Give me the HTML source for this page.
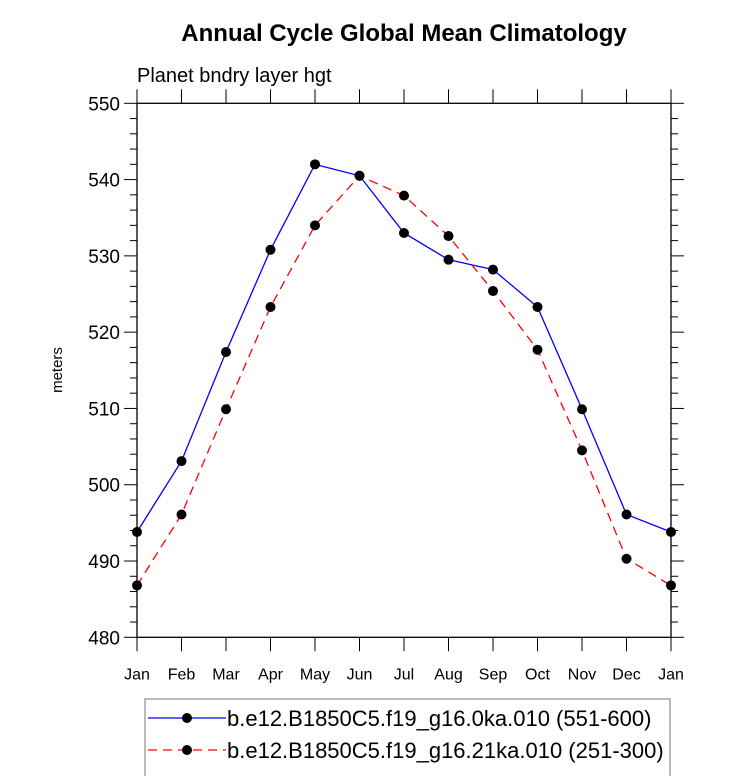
<!DOCTYPE html>
<html><head><meta charset="utf-8"><style>
html,body{margin:0;padding:0;background:#fff;}
svg{display:block;font-family:"Liberation Sans",Arial,sans-serif;}
</style></head><body>
<svg id="chart" width="733" height="776" viewBox="0 0 733 776" xmlns="http://www.w3.org/2000/svg">
<text x="404" y="41" text-anchor="middle" font-size="24" font-weight="bold">Annual Cycle Global Mean Climatology</text>
<text x="137" y="82" font-size="20">Planet bndry layer hgt</text>
<text x="0" y="0" font-size="15" text-anchor="middle" transform="translate(62,370) rotate(-90)">meters</text>
<g id="axes"></g>
<g id="series"></g>
<g>
<rect x="145" y="699" width="525" height="80" fill="none" stroke="#777" stroke-width="1"/>
<line x1="148" y1="718" x2="226" y2="718" stroke="#0000ff" stroke-width="1.3"/>
<circle cx="187" cy="718" r="5" fill="#000"/>
<text x="227" y="726" font-size="22">b.e12.B1850C5.f19_g16.0ka.010 (551-600)</text>
<line x1="148" y1="750" x2="226" y2="750" stroke="#ff0000" stroke-width="1.3" stroke-dasharray="9,6"/>
<circle cx="187" cy="750" r="5" fill="#000"/>
<text x="227" y="758" font-size="22">b.e12.B1850C5.f19_g16.21ka.010 (251-300)</text>
</g>
</svg>
<script>
const months = ["Jan","Feb","Mar","Apr","May","Jun","Jul","Aug","Sep","Oct","Nov","Dec","Jan"];
const series0ka = [493.8,503.1,517.4,530.8,542.0,540.5,533.0,529.5,528.2,523.3,509.9,496.1,493.8];
const series21ka = [486.8,496.1,509.9,523.3,534.0,540.5,537.9,532.6,525.4,517.7,504.5,490.3,486.8];
const yTicks = [480,490,500,510,520,530,540,550];

const X0=137, X1=671, Y0=637.3, Y1=103.3, VMIN=480, VMAX=550;
function xPos(i){return X0+(X1-X0)*i/(months.length-1);}
function yPos(v){return Y0-(v-VMIN)/(VMAX-VMIN)*(Y0-Y1);}
const NS="http://www.w3.org/2000/svg";
function mk(tag,attrs,parent){const e=document.createElementNS(NS,tag);for(const k in attrs)e.setAttribute(k,attrs[k]);parent.appendChild(e);return e;}
const axes=document.getElementById('axes');
const frame=mk('rect',{x:X0,y:Y1,width:X1-X0,height:Y0-Y1,fill:'none',stroke:'#000','stroke-width':1.3},axes);


for(let v=VMIN; v<=VMAX; v+=2){
  const y=yPos(v); const major=(v%10===0); const len=major?13:7;
  const t1=mk('line',{x1:X0-len,y1:y,x2:X0,y2:y,stroke:'#000','stroke-width':1},axes);
  
  
  const t2=mk('line',{x1:X1,y1:y,x2:X1+len,y2:y,stroke:'#000','stroke-width':1},axes);
  
  
}
yTicks.forEach(v=>{
  const t=mk('text',{x:X0-17,y:yPos(v)+7,'text-anchor':'end','font-size':19},axes);
  t.textContent=v;
  
  
});
months.forEach((m,i)=>{
  const x=xPos(i);
  const b=mk('line',{x1:x,y1:Y0,x2:x,y2:Y0+14,stroke:'#000','stroke-width':1},axes);
  
  
  const tp=mk('line',{x1:x,y1:Y1-14,x2:x,y2:Y1,stroke:'#000','stroke-width':1},axes);
  
  
  const t=mk('text',{x:x,y:Y0+42,'text-anchor':'middle','font-size':16},axes);
  t.textContent=m;
  
  
});
const sg=document.getElementById('series');
function drawSeries(vals,color,dash,name){
  const pts=vals.map((v,i)=>xPos(i)+','+yPos(v)).join(' ');
  const pl=mk('polyline',{points:pts,fill:'none',stroke:color,'stroke-width':1.3},sg);
  if(dash)pl.setAttribute('stroke-dasharray',dash);
  
  
  vals.forEach((v,i)=>{
    const c=mk('circle',{cx:xPos(i),cy:yPos(v),r:5,fill:'#000'},sg);
    
    
  });
}
drawSeries(series0ka,'#0000ff',null,'series-0ka');
drawSeries(series21ka,'#ff0000','9,6','series-21ka');
</script>
</body></html>
